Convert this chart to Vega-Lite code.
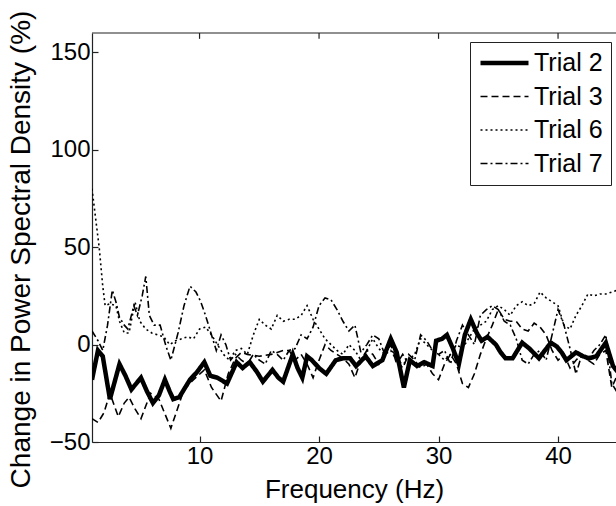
{
  "$schema": "https://vega.github.io/schema/vega-lite/v6.json",
  "width": 524,
  "height": 409,
  "autosize": {"type": "none"},
  "padding": {"left": 92, "top": 33, "right": 0, "bottom": 64},
  "background": "white",
  "config": {
    "view": {"stroke": null},
    "font": "Liberation Sans",
    "axis": {
      "domainColor": "#222",
      "tickColor": "#222",
      "labelColor": "black",
      "titleColor": "black",
      "labelFont": "Liberation Sans",
      "titleFont": "Liberation Sans",
      "titleFontWeight": "normal",
      "grid": false,
      "tickSize": -6,
      "domainWidth": 1.2,
      "tickWidth": 1.2
    },
    "legend": {
      "orient": "none",
      "legendX": 378,
      "legendY": 9,
      "strokeColor": "#222",
      "fillColor": "white",
      "padding": 8,
      "labelFont": "Liberation Sans",
      "labelFontSize": 25,
      "labelColor": "black",
      "labelOffset": 3,
      "symbolType": "stroke",
      "symbolSize": 2304,
      "symbolStrokeColor": "black",
      "clipHeight": 26,
      "rowPadding": 7.5
    }
  },
  "data": {"values": [
    {"f":1.0,"v":-18,"trial":"Trial 2"},{"f":1.5,"v":-3,"trial":"Trial 2"},{"f":1.9,"v":-6,"trial":"Trial 2"},{"f":2.5,"v":-28,"trial":"Trial 2"},{"f":3.3,"v":-10,"trial":"Trial 2"},{"f":3.8,"v":-16,"trial":"Trial 2"},{"f":4.3,"v":-23,"trial":"Trial 2"},{"f":4.7,"v":-20,"trial":"Trial 2"},{"f":5.1,"v":-17,"trial":"Trial 2"},{"f":5.6,"v":-24,"trial":"Trial 2"},{"f":6.1,"v":-30,"trial":"Trial 2"},{"f":6.6,"v":-26,"trial":"Trial 2"},{"f":7.1,"v":-18,"trial":"Trial 2"},{"f":7.5,"v":-24,"trial":"Trial 2"},{"f":7.8,"v":-28,"trial":"Trial 2"},{"f":8.3,"v":-27,"trial":"Trial 2"},{"f":8.7,"v":-23,"trial":"Trial 2"},{"f":9.2,"v":-18,"trial":"Trial 2"},{"f":9.8,"v":-14,"trial":"Trial 2"},{"f":10.4,"v":-9,"trial":"Trial 2"},{"f":10.9,"v":-16,"trial":"Trial 2"},{"f":11.5,"v":-17,"trial":"Trial 2"},{"f":12.3,"v":-20,"trial":"Trial 2"},{"f":13.1,"v":-9,"trial":"Trial 2"},{"f":13.6,"v":-12,"trial":"Trial 2"},{"f":14.2,"v":-9,"trial":"Trial 2"},{"f":14.8,"v":-14,"trial":"Trial 2"},{"f":15.3,"v":-19,"trial":"Trial 2"},{"f":16.1,"v":-13,"trial":"Trial 2"},{"f":16.6,"v":-17,"trial":"Trial 2"},{"f":17.0,"v":-19,"trial":"Trial 2"},{"f":17.8,"v":-5,"trial":"Trial 2"},{"f":18.2,"v":-12,"trial":"Trial 2"},{"f":18.6,"v":-17,"trial":"Trial 2"},{"f":19.0,"v":-6,"trial":"Trial 2"},{"f":19.4,"v":-8,"trial":"Trial 2"},{"f":20.0,"v":-12,"trial":"Trial 2"},{"f":20.6,"v":-15,"trial":"Trial 2"},{"f":21.4,"v":-8,"trial":"Trial 2"},{"f":22.0,"v":-7,"trial":"Trial 2"},{"f":22.6,"v":-7,"trial":"Trial 2"},{"f":23.1,"v":-11,"trial":"Trial 2"},{"f":23.9,"v":-6,"trial":"Trial 2"},{"f":24.5,"v":-11,"trial":"Trial 2"},{"f":25.3,"v":-8,"trial":"Trial 2"},{"f":26.0,"v":3,"trial":"Trial 2"},{"f":26.5,"v":-4,"trial":"Trial 2"},{"f":27.1,"v":-22,"trial":"Trial 2"},{"f":27.6,"v":-8,"trial":"Trial 2"},{"f":28.2,"v":-11,"trial":"Trial 2"},{"f":28.8,"v":-9,"trial":"Trial 2"},{"f":29.5,"v":-11,"trial":"Trial 2"},{"f":29.8,"v":2,"trial":"Trial 2"},{"f":30.3,"v":3,"trial":"Trial 2"},{"f":30.7,"v":5,"trial":"Trial 2"},{"f":31.2,"v":-2,"trial":"Trial 2"},{"f":31.7,"v":-10,"trial":"Trial 2"},{"f":32.2,"v":5,"trial":"Trial 2"},{"f":32.7,"v":13,"trial":"Trial 2"},{"f":33.2,"v":6,"trial":"Trial 2"},{"f":33.6,"v":2,"trial":"Trial 2"},{"f":34.1,"v":4,"trial":"Trial 2"},{"f":34.8,"v":0,"trial":"Trial 2"},{"f":35.2,"v":-4,"trial":"Trial 2"},{"f":35.6,"v":-7,"trial":"Trial 2"},{"f":36.2,"v":-7,"trial":"Trial 2"},{"f":37.0,"v":1,"trial":"Trial 2"},{"f":37.6,"v":-2,"trial":"Trial 2"},{"f":38.4,"v":-7,"trial":"Trial 2"},{"f":38.9,"v":-3,"trial":"Trial 2"},{"f":39.4,"v":1,"trial":"Trial 2"},{"f":39.9,"v":-1,"trial":"Trial 2"},{"f":40.3,"v":-4,"trial":"Trial 2"},{"f":40.7,"v":-8,"trial":"Trial 2"},{"f":41.5,"v":-4,"trial":"Trial 2"},{"f":42.1,"v":-6,"trial":"Trial 2"},{"f":42.6,"v":-7,"trial":"Trial 2"},{"f":43.2,"v":-6,"trial":"Trial 2"},{"f":44.0,"v":1,"trial":"Trial 2"},{"f":44.6,"v":-11,"trial":"Trial 2"},{"f":45.0,"v":-14,"trial":"Trial 2"},

    {"f":1.0,"v":-38,"trial":"Trial 3"},{"f":1.5,"v":-40,"trial":"Trial 3"},{"f":2.0,"v":-35,"trial":"Trial 3"},{"f":2.5,"v":-25,"trial":"Trial 3"},{"f":3.2,"v":-37,"trial":"Trial 3"},{"f":3.7,"v":-30,"trial":"Trial 3"},{"f":4.1,"v":-27,"trial":"Trial 3"},{"f":4.6,"v":-33,"trial":"Trial 3"},{"f":5.1,"v":-38,"trial":"Trial 3"},{"f":5.9,"v":-25,"trial":"Trial 3"},{"f":6.6,"v":-28,"trial":"Trial 3"},{"f":7.6,"v":-43,"trial":"Trial 3"},{"f":8.7,"v":-23,"trial":"Trial 3"},{"f":9.5,"v":-18,"trial":"Trial 3"},{"f":10.4,"v":-13,"trial":"Trial 3"},{"f":11.0,"v":-22,"trial":"Trial 3"},{"f":11.8,"v":-29,"trial":"Trial 3"},{"f":12.4,"v":-15,"trial":"Trial 3"},{"f":13.0,"v":-7,"trial":"Trial 3"},{"f":13.5,"v":-4,"trial":"Trial 3"},{"f":14.0,"v":-5,"trial":"Trial 3"},{"f":15.0,"v":-6,"trial":"Trial 3"},{"f":16.0,"v":-5,"trial":"Trial 3"},{"f":17.0,"v":-3,"trial":"Trial 3"},{"f":17.5,"v":-3,"trial":"Trial 3"},{"f":18.0,"v":-8,"trial":"Trial 3"},{"f":18.5,"v":-5,"trial":"Trial 3"},{"f":19.0,"v":-10,"trial":"Trial 3"},{"f":19.5,"v":-17,"trial":"Trial 3"},{"f":20.0,"v":-8,"trial":"Trial 3"},{"f":20.5,"v":0,"trial":"Trial 3"},{"f":21.0,"v":-3,"trial":"Trial 3"},{"f":21.5,"v":-5,"trial":"Trial 3"},{"f":22.0,"v":-7,"trial":"Trial 3"},{"f":22.5,"v":-10,"trial":"Trial 3"},{"f":23.0,"v":-17,"trial":"Trial 3"},{"f":23.5,"v":-8,"trial":"Trial 3"},{"f":24.0,"v":-3,"trial":"Trial 3"},{"f":24.5,"v":-5,"trial":"Trial 3"},{"f":25.0,"v":-10,"trial":"Trial 3"},{"f":25.5,"v":-3,"trial":"Trial 3"},{"f":26.0,"v":0,"trial":"Trial 3"},{"f":26.5,"v":-8,"trial":"Trial 3"},{"f":27.0,"v":-12,"trial":"Trial 3"},{"f":27.5,"v":-5,"trial":"Trial 3"},{"f":28.0,"v":-8,"trial":"Trial 3"},{"f":28.5,"v":-12,"trial":"Trial 3"},{"f":29.0,"v":-10,"trial":"Trial 3"},{"f":29.5,"v":-15,"trial":"Trial 3"},{"f":30.0,"v":-18,"trial":"Trial 3"},{"f":30.5,"v":-10,"trial":"Trial 3"},{"f":31.0,"v":-5,"trial":"Trial 3"},{"f":31.5,"v":-10,"trial":"Trial 3"},{"f":32.0,"v":-20,"trial":"Trial 3"},{"f":32.5,"v":-22,"trial":"Trial 3"},{"f":33.0,"v":-15,"trial":"Trial 3"},{"f":33.5,"v":-5,"trial":"Trial 3"},{"f":34.0,"v":3,"trial":"Trial 3"},{"f":34.5,"v":10,"trial":"Trial 3"},{"f":35.0,"v":18,"trial":"Trial 3"},{"f":35.5,"v":13,"trial":"Trial 3"},{"f":36.0,"v":12,"trial":"Trial 3"},{"f":36.5,"v":12,"trial":"Trial 3"},{"f":37.0,"v":8,"trial":"Trial 3"},{"f":37.5,"v":7,"trial":"Trial 3"},{"f":38.0,"v":11,"trial":"Trial 3"},{"f":38.5,"v":9,"trial":"Trial 3"},{"f":39.0,"v":5,"trial":"Trial 3"},{"f":39.5,"v":-3,"trial":"Trial 3"},{"f":40.0,"v":-8,"trial":"Trial 3"},{"f":40.5,"v":-5,"trial":"Trial 3"},{"f":41.0,"v":-12,"trial":"Trial 3"},{"f":41.5,"v":-8,"trial":"Trial 3"},{"f":42.0,"v":-5,"trial":"Trial 3"},{"f":42.5,"v":-8,"trial":"Trial 3"},{"f":43.0,"v":-10,"trial":"Trial 3"},{"f":43.5,"v":-5,"trial":"Trial 3"},{"f":44.0,"v":-3,"trial":"Trial 3"},{"f":44.5,"v":-22,"trial":"Trial 3"},{"f":45.0,"v":-15,"trial":"Trial 3"},

    {"f":1.0,"v":80,"trial":"Trial 6"},{"f":1.3,"v":65,"trial":"Trial 6"},{"f":1.6,"v":50,"trial":"Trial 6"},{"f":1.9,"v":30,"trial":"Trial 6"},{"f":2.1,"v":20,"trial":"Trial 6"},{"f":2.5,"v":21,"trial":"Trial 6"},{"f":3.0,"v":20,"trial":"Trial 6"},{"f":3.3,"v":12,"trial":"Trial 6"},{"f":3.7,"v":6,"trial":"Trial 6"},{"f":4.1,"v":6,"trial":"Trial 6"},{"f":4.6,"v":22,"trial":"Trial 6"},{"f":5.0,"v":12,"trial":"Trial 6"},{"f":5.5,"v":8,"trial":"Trial 6"},{"f":6.0,"v":6,"trial":"Trial 6"},{"f":6.5,"v":5,"trial":"Trial 6"},{"f":7.0,"v":4,"trial":"Trial 6"},{"f":7.5,"v":0,"trial":"Trial 6"},{"f":8.0,"v":2,"trial":"Trial 6"},{"f":8.5,"v":3,"trial":"Trial 6"},{"f":9.0,"v":4,"trial":"Trial 6"},{"f":9.5,"v":3,"trial":"Trial 6"},{"f":10.0,"v":8,"trial":"Trial 6"},{"f":10.5,"v":9,"trial":"Trial 6"},{"f":11.0,"v":5,"trial":"Trial 6"},{"f":11.5,"v":0,"trial":"Trial 6"},{"f":12.0,"v":-5,"trial":"Trial 6"},{"f":12.5,"v":-8,"trial":"Trial 6"},{"f":13.0,"v":-3,"trial":"Trial 6"},{"f":13.5,"v":-2,"trial":"Trial 6"},{"f":14.0,"v":-5,"trial":"Trial 6"},{"f":14.5,"v":5,"trial":"Trial 6"},{"f":15.0,"v":13,"trial":"Trial 6"},{"f":15.5,"v":10,"trial":"Trial 6"},{"f":16.0,"v":8,"trial":"Trial 6"},{"f":16.5,"v":15,"trial":"Trial 6"},{"f":17.0,"v":12,"trial":"Trial 6"},{"f":17.5,"v":13,"trial":"Trial 6"},{"f":18.0,"v":13,"trial":"Trial 6"},{"f":18.5,"v":15,"trial":"Trial 6"},{"f":19.0,"v":20,"trial":"Trial 6"},{"f":19.5,"v":13,"trial":"Trial 6"},{"f":20.0,"v":8,"trial":"Trial 6"},{"f":20.5,"v":3,"trial":"Trial 6"},{"f":21.0,"v":0,"trial":"Trial 6"},{"f":21.5,"v":-3,"trial":"Trial 6"},{"f":22.0,"v":-5,"trial":"Trial 6"},{"f":22.5,"v":0,"trial":"Trial 6"},{"f":23.0,"v":-3,"trial":"Trial 6"},{"f":23.5,"v":-8,"trial":"Trial 6"},{"f":24.0,"v":-3,"trial":"Trial 6"},{"f":24.5,"v":3,"trial":"Trial 6"},{"f":25.0,"v":-2,"trial":"Trial 6"},{"f":25.5,"v":-5,"trial":"Trial 6"},{"f":26.0,"v":-3,"trial":"Trial 6"},{"f":26.5,"v":-8,"trial":"Trial 6"},{"f":27.0,"v":-10,"trial":"Trial 6"},{"f":27.5,"v":-8,"trial":"Trial 6"},{"f":28.0,"v":-5,"trial":"Trial 6"},{"f":28.5,"v":3,"trial":"Trial 6"},{"f":29.0,"v":0,"trial":"Trial 6"},{"f":29.5,"v":-3,"trial":"Trial 6"},{"f":30.0,"v":-5,"trial":"Trial 6"},{"f":30.5,"v":-8,"trial":"Trial 6"},{"f":31.0,"v":-5,"trial":"Trial 6"},{"f":31.5,"v":0,"trial":"Trial 6"},{"f":32.0,"v":-2,"trial":"Trial 6"},{"f":32.5,"v":3,"trial":"Trial 6"},{"f":33.0,"v":8,"trial":"Trial 6"},{"f":33.5,"v":10,"trial":"Trial 6"},{"f":34.0,"v":12,"trial":"Trial 6"},{"f":34.5,"v":18,"trial":"Trial 6"},{"f":35.0,"v":20,"trial":"Trial 6"},{"f":35.5,"v":18,"trial":"Trial 6"},{"f":36.0,"v":15,"trial":"Trial 6"},{"f":36.5,"v":20,"trial":"Trial 6"},{"f":37.0,"v":22,"trial":"Trial 6"},{"f":37.5,"v":20,"trial":"Trial 6"},{"f":38.0,"v":21,"trial":"Trial 6"},{"f":38.5,"v":27,"trial":"Trial 6"},{"f":39.0,"v":24,"trial":"Trial 6"},{"f":39.5,"v":22,"trial":"Trial 6"},{"f":40.0,"v":20,"trial":"Trial 6"},{"f":40.5,"v":10,"trial":"Trial 6"},{"f":41.0,"v":8,"trial":"Trial 6"},{"f":41.5,"v":15,"trial":"Trial 6"},{"f":42.0,"v":20,"trial":"Trial 6"},{"f":42.5,"v":26,"trial":"Trial 6"},{"f":43.0,"v":25,"trial":"Trial 6"},{"f":43.5,"v":26,"trial":"Trial 6"},{"f":44.0,"v":26,"trial":"Trial 6"},{"f":44.5,"v":27,"trial":"Trial 6"},{"f":45.0,"v":28,"trial":"Trial 6"},

    {"f":1.0,"v":7,"trial":"Trial 7"},{"f":1.5,"v":2,"trial":"Trial 7"},{"f":1.9,"v":-3,"trial":"Trial 7"},{"f":2.3,"v":10,"trial":"Trial 7"},{"f":2.7,"v":28,"trial":"Trial 7"},{"f":3.0,"v":22,"trial":"Trial 7"},{"f":3.3,"v":14,"trial":"Trial 7"},{"f":3.7,"v":10,"trial":"Trial 7"},{"f":4.0,"v":8,"trial":"Trial 7"},{"f":4.5,"v":20,"trial":"Trial 7"},{"f":4.8,"v":15,"trial":"Trial 7"},{"f":5.2,"v":25,"trial":"Trial 7"},{"f":5.5,"v":35,"trial":"Trial 7"},{"f":5.8,"v":15,"trial":"Trial 7"},{"f":6.2,"v":10,"trial":"Trial 7"},{"f":6.7,"v":10,"trial":"Trial 7"},{"f":7.2,"v":-1,"trial":"Trial 7"},{"f":7.6,"v":-8,"trial":"Trial 7"},{"f":8.2,"v":6,"trial":"Trial 7"},{"f":8.7,"v":20,"trial":"Trial 7"},{"f":9.2,"v":30,"trial":"Trial 7"},{"f":9.7,"v":27,"trial":"Trial 7"},{"f":10.1,"v":22,"trial":"Trial 7"},{"f":10.5,"v":15,"trial":"Trial 7"},{"f":10.9,"v":7,"trial":"Trial 7"},{"f":11.4,"v":-3,"trial":"Trial 7"},{"f":11.8,"v":5,"trial":"Trial 7"},{"f":12.2,"v":0,"trial":"Trial 7"},{"f":12.6,"v":-8,"trial":"Trial 7"},{"f":13.0,"v":-5,"trial":"Trial 7"},{"f":13.5,"v":-8,"trial":"Trial 7"},{"f":14.0,"v":-10,"trial":"Trial 7"},{"f":14.5,"v":-5,"trial":"Trial 7"},{"f":15.0,"v":-8,"trial":"Trial 7"},{"f":15.5,"v":-10,"trial":"Trial 7"},{"f":16.0,"v":-3,"trial":"Trial 7"},{"f":16.5,"v":-5,"trial":"Trial 7"},{"f":17.0,"v":-8,"trial":"Trial 7"},{"f":17.5,"v":-3,"trial":"Trial 7"},{"f":18.0,"v":-2,"trial":"Trial 7"},{"f":18.5,"v":5,"trial":"Trial 7"},{"f":19.0,"v":3,"trial":"Trial 7"},{"f":19.5,"v":9,"trial":"Trial 7"},{"f":20.0,"v":20,"trial":"Trial 7"},{"f":20.5,"v":24,"trial":"Trial 7"},{"f":21.0,"v":23,"trial":"Trial 7"},{"f":21.5,"v":18,"trial":"Trial 7"},{"f":22.0,"v":12,"trial":"Trial 7"},{"f":22.5,"v":7,"trial":"Trial 7"},{"f":23.0,"v":10,"trial":"Trial 7"},{"f":23.5,"v":-4,"trial":"Trial 7"},{"f":24.0,"v":0,"trial":"Trial 7"},{"f":24.5,"v":5,"trial":"Trial 7"},{"f":25.0,"v":3,"trial":"Trial 7"},{"f":25.5,"v":-5,"trial":"Trial 7"},{"f":26.0,"v":0,"trial":"Trial 7"},{"f":26.5,"v":-10,"trial":"Trial 7"},{"f":27.0,"v":-5,"trial":"Trial 7"},{"f":27.5,"v":-10,"trial":"Trial 7"},{"f":28.0,"v":-8,"trial":"Trial 7"},{"f":28.5,"v":5,"trial":"Trial 7"},{"f":29.0,"v":2,"trial":"Trial 7"},{"f":29.5,"v":-3,"trial":"Trial 7"},{"f":30.0,"v":-5,"trial":"Trial 7"},{"f":30.5,"v":-3,"trial":"Trial 7"},{"f":31.0,"v":-10,"trial":"Trial 7"},{"f":31.5,"v":2,"trial":"Trial 7"},{"f":32.0,"v":10,"trial":"Trial 7"},{"f":32.5,"v":5,"trial":"Trial 7"},{"f":33.0,"v":0,"trial":"Trial 7"},{"f":33.5,"v":15,"trial":"Trial 7"},{"f":34.0,"v":18,"trial":"Trial 7"},{"f":34.5,"v":20,"trial":"Trial 7"},{"f":35.0,"v":18,"trial":"Trial 7"},{"f":35.5,"v":12,"trial":"Trial 7"},{"f":36.0,"v":10,"trial":"Trial 7"},{"f":36.5,"v":3,"trial":"Trial 7"},{"f":37.0,"v":-8,"trial":"Trial 7"},{"f":37.5,"v":-10,"trial":"Trial 7"},{"f":38.0,"v":-5,"trial":"Trial 7"},{"f":38.5,"v":-3,"trial":"Trial 7"},{"f":39.0,"v":-8,"trial":"Trial 7"},{"f":39.5,"v":5,"trial":"Trial 7"},{"f":40.0,"v":18,"trial":"Trial 7"},{"f":40.5,"v":10,"trial":"Trial 7"},{"f":41.0,"v":-2,"trial":"Trial 7"},{"f":41.5,"v":-15,"trial":"Trial 7"},{"f":42.0,"v":-5,"trial":"Trial 7"},{"f":42.5,"v":-8,"trial":"Trial 7"},{"f":43.0,"v":-3,"trial":"Trial 7"},{"f":43.5,"v":0,"trial":"Trial 7"},{"f":44.0,"v":5,"trial":"Trial 7"},{"f":44.5,"v":-20,"trial":"Trial 7"},{"f":45.0,"v":-25,"trial":"Trial 7"}
  ]},
  "layer": [
    {
      "mark": {"type": "line", "clip": true, "color": "black", "strokeCap": "butt", "strokeJoin": "miter"},
      "encoding": {
        "x": {"field": "f", "type": "quantitative",
              "scale": {"domain": [1, 44.85], "nice": false, "zero": false},
              "axis": {"orient": "bottom", "values": [10, 20, 30, 40], "title": "Frequency (Hz)",
                       "labelFontSize": 24, "titleFontSize": 26, "labelPadding": 8, "titlePadding": 8}},
        "y": {"field": "v", "type": "quantitative",
              "scale": {"domain": [-50, 160], "nice": false, "zero": false},
              "axis": {"values": [-50, 0, 50, 100, 150], "title": "Change in Power Spectral Density (%)",
                       "labelFontSize": 24, "titleFontSize": 28, "labelPadding": 8, "titlePadding": 14,
                       "titleY": 216}},
        "detail": {"field": "trial"},
        "strokeDash": {"field": "trial", "type": "nominal",
              "scale": {"domain": ["Trial 2", "Trial 3", "Trial 6", "Trial 7"],
                        "range": [[1, 0], [7, 4], [2, 3], [7, 3, 2, 3]]},
              "legend": {"title": null}},
        "strokeWidth": {"field": "trial", "type": "nominal",
              "scale": {"type": "ordinal", "domain": ["Trial 2", "Trial 3", "Trial 6", "Trial 7"],
                        "range": [4.5, 1.6, 1.6, 1.6]},
              "legend": {"title": null}}
      }
    },
    {
      "data": {"values": [{"top": 160}]},
      "mark": {"type": "rule", "color": "#222", "strokeWidth": 1.2},
      "encoding": {"y": {"field": "top", "type": "quantitative"}}
    },
    {
      "data": {"values": [{"t": 10}, {"t": 20}, {"t": 30}, {"t": 40}]},
      "mark": {"type": "rule", "color": "#222", "strokeWidth": 1.2},
      "encoding": {
        "x": {"field": "t", "type": "quantitative"},
        "y": {"datum": 160},
        "y2": {"datum": 157}
      }
    }
  ]
}
